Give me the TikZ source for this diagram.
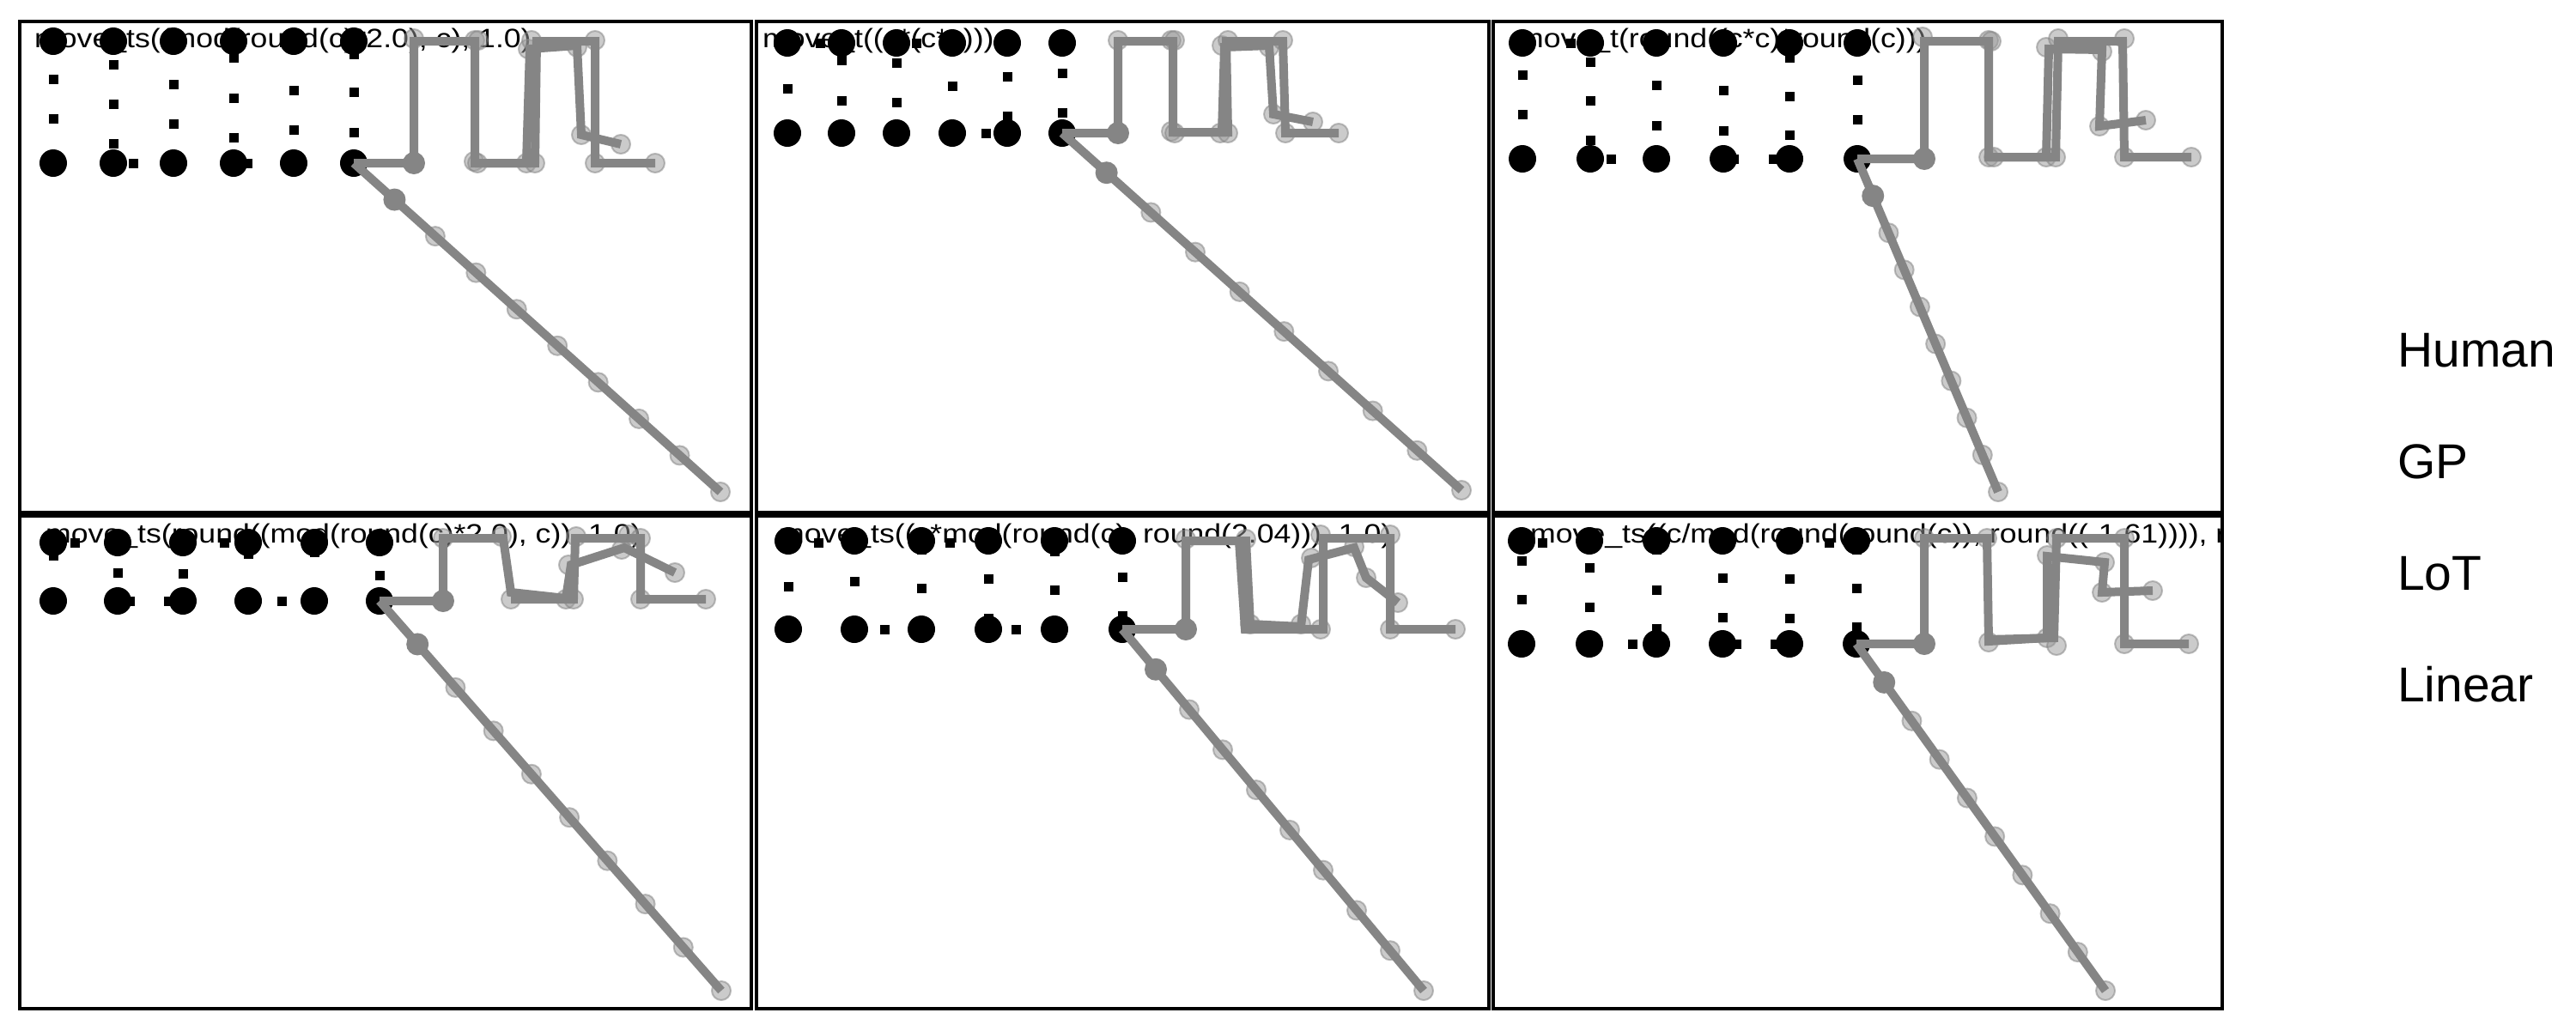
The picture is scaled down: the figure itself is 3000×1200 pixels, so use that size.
\documentclass[tikz,border=0pt]{standalone}
\usepackage{fontspec}
\usepackage{graphicx}
\usetikzlibrary{calc}
\setmainfont{Liberation Sans}
\newfontfamily\plotfont[FakeStretch=1.15]{Liberation Sans}
\definecolor{linegray}{HTML}{858585}
\tikzset{
  frame/.style={draw=black,line width=4pt},
  hum/.style={draw=linegray,line width=10pt,line join=miter},
  lc/.style={fill=black!40,fill opacity=0.5,draw=black!50,draw opacity=0.5,line width=2pt},
  dc/.style={fill=linegray},
  bpt/.style={fill=black},
  sqr/.style={fill=black},
  lbl/.style={anchor=base west,inner sep=0pt,font=\plotfont\fontsize{31}{36}\selectfont},
  leg/.style={anchor=base west,inner sep=0pt,font=\fontsize{57}{64}\selectfont}
}
\newcommand\blackgrid[3]{\foreach \xx in {#1} {\fill[bpt] (\xx,#2) circle (16pt); \fill[bpt] (\xx,#3) circle (16pt);}}
\newcommand\sqlist[1]{\foreach \xx/\yy in {#1} {\fill[sqr] (\xx-5.5,\yy-5.5) rectangle (\xx+5.5,\yy+5.5);}}
\newcommand\lightc[1]{\foreach \xx/\yy in {#1} {\fill[lc] (\xx,\yy) circle (11pt);}}
\newcommand\diagline[4]{%
  \coordinate (ds) at (#1,#2); \coordinate (de) at (#3,#4);
  \foreach \k in {2,...,9} {\fill[lc] ($(ds)!\k/9!(de)$) circle (11pt);}
  \draw[hum] (ds) -- (de);
  \fill[dc] ($(ds)!1/9!(de)$) circle (13pt);}
\begin{document}
\begin{tikzpicture}[x=1pt,y=-1pt]
\useasboundingbox[fill=white] (0,0) rectangle (3000,1200);

% ---------- Panel 1 ----------
\begin{scope}
\clip (23,25) rectangle (875,597);
\node[lbl] (t1) at (40,55) {move\_ts((mod(round(c)*2.0), c), 1.0)};
\blackgrid{62,132,202,272,342,412}{48}{190}
\sqlist{62/92,62/138,132/75,132/121,132/167,155/190,202/98,202/144,272/67,272/114,272/160,288/190,342/105,342/151,412/63,412/107,412/154}
\lightc{482/45,553/47,557/47,552/188,556/190,613/190,623/190,615/57,619/47,672/55,693/47,677/157,723/168,693/190,763/190}
\draw[hum] (412,190)--(482,190)--(482,48)--(553,48)--(553,190)--(613,190)--(617,57)--(672,53)--(677,157)--(723,168);
\draw[hum] (553,190)--(623,190)--(625,48)--(693,48)--(693,190)--(763,190);
\fill[dc] (482,190) circle (13pt);
\diagline{412}{190}{839}{573}
\end{scope}
\draw[frame] (23,25) rectangle (875,597);

% ---------- Panel 2 ----------
\begin{scope}
\clip (881,25) rectangle (1734,597);
\node[lbl] (t2) at (888,55) {move\_t((c*(c*c)))};
\blackgrid{917,980,1044,1109,1173,1237}{50}{155}
\sqlist{917/103,980/70,980/117,1044/73,1044/119,1109/100,1173/89,1173/135,1148/155,1237/85,1237/131,955/50,1067/50}
\lightc{1302/47,1364/47,1368/47,1364/153,1368/155,1421/155,1430/155,1423/53,1430/47,1478/55,1494/47,1483/133,1529/142,1497/155,1559/155}
\draw[hum] (1237,155)--(1302,155)--(1302,48)--(1366,48)--(1366,154)--(1423,154)--(1426,55)--(1478,53)--(1483,133)--(1529,142);
\draw[hum] (1366,154)--(1430,154)--(1428,48)--(1494,48)--(1497,155)--(1559,155);
\fill[dc] (1302,155) circle (13pt);
\diagline{1237}{155}{1702}{571}
\end{scope}
\draw[frame] (881,25) rectangle (1734,597);

% ---------- Panel 3 ----------
\begin{scope}
\clip (1739,25) rectangle (2588,597);
\node[lbl] (t3) at (1768,55) {move\_t(round((c*c)*round(c)))};
\blackgrid{1773,1852,1929,2007,2084,2163}{50}{185}
\sqlist{1773/87,1773/133,1852/72,1852/117,1852/163,1876/185,1829/50,1929/99,1929/146,2007/105,2007/152,2019/185,2084/67,2084/112,2084/157,2065/185,2163/93,2163/139}
\lightc{2239/43,2316/47,2319/48,2316/183,2322/183,2383/183,2394/183,2383/55,2397/45,2448/60,2474/45,2445/147,2499/140,2474/183,2552/183}
\draw[hum] (2163,185)--(2241,185)--(2241,48)--(2316,48)--(2316,183)--(2383,183)--(2386,57)--(2448,58)--(2445,147)--(2499,140);
\draw[hum] (2316,183)--(2394,183)--(2397,48)--(2472,48)--(2474,183)--(2552,183);
\fill[dc] (2241,185) circle (13pt);
\diagline{2163}{185}{2327}{573}
\end{scope}
\draw[frame] (1739,25) rectangle (2588,597);

% ---------- Panel 4 ----------
\begin{scope}
\clip (23,601) rectangle (875,1175);
\node[lbl] (t4) at (53,632) {move\_ts(round((mod(round(c)*2.0), c)), 1.0)};
\blackgrid{62,137,213,289,366,442}{632}{700}
\sqlist{62/647,137/667,151/700,213/668,196/700,289/645,328/700,366/643,442/670,87/632,261/632}
\lightc{516/627,584/625,595/698,659/698,668/698,662/658,671/625,724/640,732/623,786/667,746/698,822/698,746/627}
\draw[hum] (442,700)--(516,700)--(516,627)--(586,627)--(595,690)--(659,697)--(665,658)--(727,638)--(786,667);
\draw[hum] (595,698)--(668,698)--(670,627)--(746,627)--(746,698)--(822,698);
\fill[dc] (516,700) circle (13pt);
\diagline{442}{700}{840}{1154}
\end{scope}
\draw[frame] (23,601) rectangle (875,1175);

% ---------- Panel 5 ----------
\begin{scope}
\clip (881,601) rectangle (1734,1175);
\node[lbl] (t5) at (907,632) {move\_ts((c*mod(round(c), round(2.04))), 1.0)};
\blackgrid{918,995,1073,1151,1228,1307}{630}{733}
\sqlist{918/683,995/677,1030/733,1073/685,1073/640,1151/674,1151/720,1183/733,1228/687,1228/642,1307/672,1307/717,953/632,1106/632}
\lightc{1381/628,1451/628,1456/727,1515/727,1538/733,1527/650,1577/637,1591/673,1628/702,1538/623,1619/623,1619/733,1695/733}
\draw[hum] (1307,733)--(1381,733)--(1381,630)--(1451,630)--(1456,727)--(1515,730)--(1524,652)--(1577,638)--(1591,673)--(1628,702);
\draw[hum] (1443,630)--(1450,733)--(1541,733)--(1541,627)--(1619,627)--(1619,733)--(1695,733);
\fill[dc] (1381,733) circle (13pt);
\diagline{1307}{733}{1658}{1154}
\end{scope}
\draw[frame] (881,601) rectangle (1734,1175);

% ---------- Panel 6 ----------
\begin{scope}
\clip (1739,601) rectangle (2588,1175);
\node[lbl] (t6) at (1782,632) {move\_ts((c/mod(round(round(c)), round((-1.61)))), r};
\blackgrid{1772,1851,1929,2006,2084,2162}{630}{750}
\sqlist{1772/653,1772/698,1851/661,1851/707,1929/687,1929/732,1901/750,1929/640,2006/673,2006/719,2022/750,2084/674,2084/720,2067/750,2162/685,2162/730,2162/640,1796/632,2130/632}
\lightc{2241/627,2314/627,2316/748,2384/743,2395/752,2384/647,2451/655,2448/690,2507/688,2395/627,2474/627,2474/750,2549/750}
\draw[hum] (2162,750)--(2241,750)--(2241,627)--(2314,627)--(2316,747)--(2384,743)--(2384,648)--(2451,655)--(2448,690)--(2507,688);
\draw[hum] (2316,745)--(2392,743)--(2395,627)--(2474,627)--(2474,750)--(2549,750);
\fill[dc] (2241,750) circle (13pt);
\diagline{2162}{750}{2452}{1154}
\end{scope}
\draw[frame] (1739,601) rectangle (2588,1175);

% ---------- Legend ----------
\node[leg] (lh) at (2792,427) {Human};
\node[leg] (lg) at (2792,557) {GP};
\node[leg] (ll) at (2792,687) {LoT};
\node[leg] (lr) at (2792,817) {Linear};
\end{tikzpicture}
\end{document}
